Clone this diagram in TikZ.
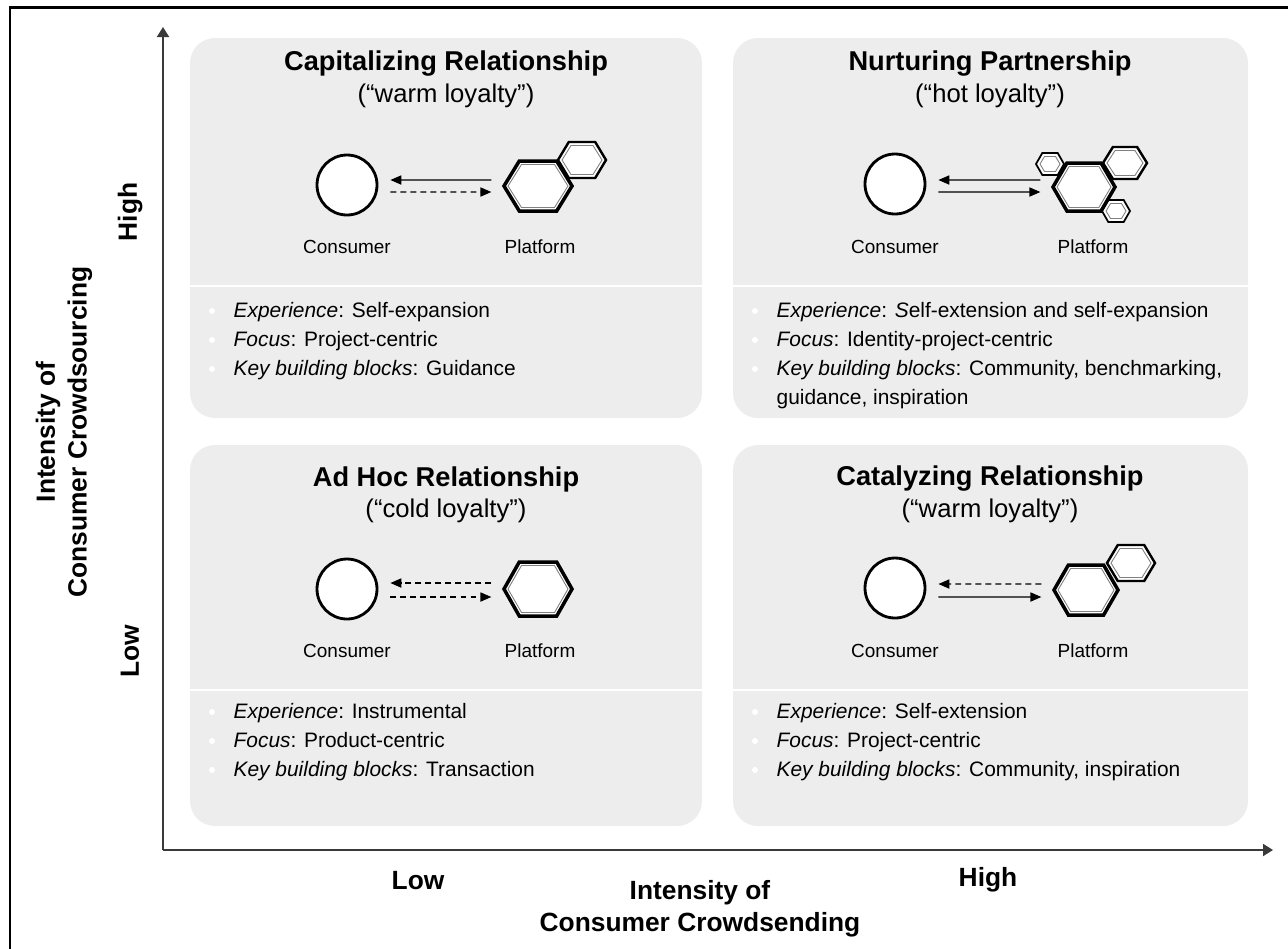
\documentclass[tikz,border=0pt]{standalone}
\usepackage{fontspec}
\setmainfont{Liberation Sans}
\usetikzlibrary{arrows.meta,positioning,calc}
\tikzset{every picture/.style={line width=0.75pt}}

\definecolor{panelgray}{HTML}{EDEDED}
\definecolor{axisgray}{HTML}{3A3A3A}

\tikzset{
    panel/.style={fill=panelgray, rounded corners=0.5cm},
    split/.style={draw=white, line width=1.2pt},
    axis/.style={draw=axisgray, line width=1.1pt, -{Triangle[length=0.2cm, width=0.24cm]}},
    ttl/.style={font=\fontsize{15.5}{18}\selectfont\bfseries},
    sub/.style={font=\fontsize{14.6}{18}\selectfont},
    lbl/.style={font=\fontsize{10.8}{13}\selectfont},
    item/.style={font=\fontsize{11.9}{16.4}\selectfont, anchor=base west, inner sep=0pt},
    axlbl/.style={font=\fontsize{15}{18}\selectfont\bfseries, align=center},
    consumer/.style={circle, draw=black, line width=1.6pt, fill=white,
        minimum size=1.2cm, inner sep=0pt},
    platform/.style={minimum width=#1, minimum height=1cm, inner sep=0pt},
    flow/.style={line width=0.7pt, ->, shorten >=0.24cm, shorten <=0.24cm},
    weak/.style={flow, dash pattern=on 3.4pt off 2.3pt},
    % hexagon with a thin grey inner rim: half width, half height, outer line width
    pics/hexa/.style n args={3}{code={
        \draw[line width=#3, fill=white, line join=miter]
            (-#1,0) -- (-0.55*#1,-#2) -- (0.55*#1,-#2) -- (#1,0)
            -- (0.55*#1,#2) -- (-0.55*#1,#2) -- cycle;
        \pgfmathsetmacro{\hx}{#1-4}
        \pgfmathsetmacro{\hy}{#2-3.5}
        \draw[gray, line width=0.5pt]
            (-\hx,0) -- (-0.55*\hx,-\hy) -- (0.55*\hx,-\hy) -- (\hx,0)
            -- (0.55*\hx,\hy) -- (-0.55*\hx,\hy) -- cycle;
    }}
}

\begin{document}
\begin{tikzpicture}[x=0.02cm, y=-0.02cm, >={Triangle[length=6.2pt, width=5.2pt]}]

    \useasboundingbox (0,0) rectangle (1288,948);
    \draw[line width=1.7pt] (10,960) -- (10,7) -- (1300,7);

    % --- Achsen ---
    \coordinate (orig) at (163,850);
    \coordinate (ytop) at (163,27);
    \coordinate (xend) at (1273,850);
    \draw[axis] (orig) -- (ytop);
    \draw[axis] (orig) -- (xend);

    \node[axlbl, rotate=90] (yhigh) at (130,212) {High};
    \node[axlbl, rotate=90] (ylow)  at (130,651) {Low};
    \node[axlbl, rotate=90] (ytitle) at (64,432) {Intensity of\\Consumer Crowdsourcing};

    \node[axlbl] (xlow)  at (418,881) {Low};
    \node[axlbl] (xhigh) at (988,880) {High};
    \node[axlbl] (xtitle) at (700,909) {Intensity of\\Consumer Crowdsending};

    % --- oben links: Capitalizing ---
    \fill[panel] (190,38) rectangle (702,418);
    \draw[split] (190,286) -- (702,286);
    \node[ttl] (ttlCap) at (446,64) {Capitalizing Relationship};
    \node[sub] (subCap) at (446,96) {(“warm loyalty”)};

    \node[consumer] (conCap) at (347,185) {};
    \pic at (582,160) {hexa={24}{18}{1.4pt}};
    \pic at (538,186) {hexa={34}{25}{2pt}};
    \node[platform=1.36cm] (platCap) at (538,186) {};
    \draw[flow] ([yshift=0.12cm]platCap.west) -- ([yshift=0.1cm]conCap.east);
    \draw[weak] ([yshift=-0.14cm]conCap.east) -- ([yshift=-0.12cm]platCap.west);
    \node[lbl] (conCapL)  at (347,247) {Consumer};
    \node[lbl] (platCapL) at (540,247) {Platform};

    \foreach \y in {311,340,369} {
        \fill[white] (212,\y) circle (3);
    }
    \node[item] (capA) at (233,317) {\textit{Experience}: Self-expansion};
    \node[item] (capB) at (233,346) {\textit{Focus}: Project-centric};
    \node[item] (capC) at (233,375) {\textit{Key building blocks}: Guidance};

    % --- oben rechts: Nurturing ---
    \fill[panel] (733,38) rectangle (1248,418);
    \draw[split] (733,286) -- (1248,286);
    \node[ttl] (ttlNur) at (990,64) {Nurturing Partnership};
    \node[sub] (subNur) at (990,96) {(“hot loyalty”)};

    \node[consumer] (conNur) at (895,184) {};
    \pic at (1125,163) {hexa={22}{16}{1.4pt}};
    \pic at (1050,164) {hexa={14}{11}{1pt}};
    \pic at (1116,211) {hexa={14}{11}{1pt}};
    \pic at (1084,187) {hexa={31}{24}{2pt}};
    \node[platform=1.24cm] (platNur) at (1084,187) {};
    \draw[flow] ([yshift=0.14cm]platNur.west) -- ([yshift=0.08cm]conNur.east);
    \draw[flow] ([yshift=-0.16cm]conNur.east) -- ([yshift=-0.1cm]platNur.west);
    \node[lbl] (conNurL)  at (895,247) {Consumer};
    \node[lbl] (platNurL) at (1093,247) {Platform};

    \foreach \y in {311,340,369} {
        \fill[white] (755,\y) circle (3);
    }
    \node[item] (nurA) at (776,317) {\textit{Experience}: \textit{S}elf-extension and self-expansion};
    \node[item] (nurB) at (776,346) {\textit{Focus}: Identity-project-centric};
    \node[item] (nurC) at (776,375) {\textit{Key building blocks}: Community, benchmarking,};
    \node[item] (nurD) at (776,404) {guidance, inspiration};

    % --- unten links: Ad Hoc ---
    \fill[panel] (190,445) rectangle (702,826);
    \draw[split] (190,690) -- (702,690);
    \node[ttl] (ttlAdh) at (446,479) {Ad Hoc Relationship};
    \node[sub] (subAdh) at (446,511) {(“cold loyalty”)};

    \node[consumer] (conAdh) at (347,589) {};
    \pic at (538,589) {hexa={34}{27}{2pt}};
    \node[platform=1.36cm] (platAdh) at (538,589) {};
    \draw[weak] ([yshift=0.12cm]platAdh.west) -- ([yshift=0.12cm]conAdh.east);
    \draw[weak] ([yshift=-0.16cm]conAdh.east) -- ([yshift=-0.16cm]platAdh.west);
    \node[lbl] (conAdhL)  at (347,651) {Consumer};
    \node[lbl] (platAdhL) at (540,651) {Platform};

    \foreach \y in {712,741,770} {
        \fill[white] (212,\y) circle (3);
    }
    \node[item] (adhA) at (233,718) {\textit{Experience}: Instrumental};
    \node[item] (adhB) at (233,747) {\textit{Focus}: Product-centric};
    \node[item] (adhC) at (233,776) {\textit{Key building blocks}: Transaction};

    % --- unten rechts: Catalyzing ---
    \fill[panel] (733,445) rectangle (1248,826);
    \draw[split] (733,690) -- (1248,690);
    \node[ttl] (ttlCat) at (990,479) {Catalyzing Relationship};
    \node[sub] (subCat) at (990,511) {(“warm loyalty”)};

    \node[consumer] (conCat) at (895,588) {};
    \pic at (1131,563) {hexa={24}{18}{1.4pt}};
    \pic at (1086,590) {hexa={32}{25}{2pt}};
    \node[platform=1.28cm] (platCat) at (1086,590) {};
    \draw[weak] ([yshift=0.12cm]platCat.west) -- ([yshift=0.08cm]conCat.east);
    \draw[flow] ([yshift=-0.18cm]conCat.east) -- ([yshift=-0.14cm]platCat.west);
    \node[lbl] (conCatL)  at (895,651) {Consumer};
    \node[lbl] (platCatL) at (1093,651) {Platform};

    \foreach \y in {712,741,770} {
        \fill[white] (755,\y) circle (3);
    }
    \node[item] (catA) at (776,718) {\textit{Experience}: Self-extension};
    \node[item] (catB) at (776,747) {\textit{Focus}: Project-centric};
    \node[item] (catC) at (776,776) {\textit{Key building blocks}: Community, inspiration};

\end{tikzpicture}
\end{document}
